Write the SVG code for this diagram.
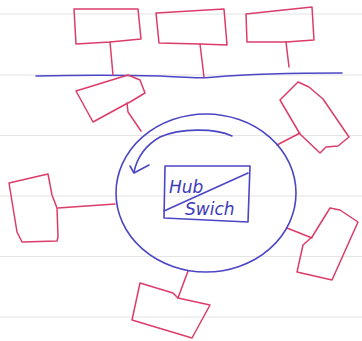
<svg xmlns="http://www.w3.org/2000/svg" width="362" height="341" viewBox="0 0 362 341">
<style>
.rule{stroke:#e4e4e4;stroke-width:1.2;fill:none}
.pc{fill:none;stroke:#dc3c6a;stroke-width:1.5;stroke-linejoin:round;stroke-linecap:round}
.wire{fill:none;stroke:#dc3c6a;stroke-width:1.5;stroke-linecap:round}
.blue{fill:none;stroke:#4b46c4;stroke-width:1.6;stroke-linecap:round;stroke-linejoin:round}
.lbl{font-family:"DejaVu Sans","Liberation Sans",sans-serif;font-style:italic;fill:#3d3ab8;font-size:17px}
</style>
<rect width="362" height="341" fill="#ffffff"/>
<g id="ruling">
<line class="rule" x1="0" y1="14" x2="362" y2="14"/>
<line class="rule" x1="0" y1="75" x2="362" y2="75"/>
<line class="rule" x1="0" y1="135.5" x2="362" y2="135.5"/>
<line class="rule" x1="0" y1="196" x2="362" y2="196"/>
<line class="rule" x1="0" y1="256.5" x2="362" y2="256.5"/>
<line class="rule" x1="0" y1="317" x2="362" y2="317"/>
</g>
<g id="connectors">
<path class="blue" d="M36,76 C80,75 120,75 160,76 C185,77 200,79 215,77 C250,74 300,73 342,73"/>
<path class="wire" d="M110,42 L113,75"/>
<path class="wire" d="M200,44 L204,77"/>
<path class="wire" d="M286,42 L289,67"/>
<path class="wire" d="M127,103 L128,112 L141,131"/>
<path class="wire" d="M300,133 L277,145"/>
<path class="wire" d="M58,208 L115,204"/>
<path class="wire" d="M287,228 L312,238"/>
<path class="wire" d="M178,298 L188,271"/>
</g>
<g id="ring">
<ellipse class="blue" cx="206" cy="193" rx="90" ry="79"/>
<path class="blue" d="M232,136 C215,128 180,128 160,137 C146,145 137,158 134,172"/>
<path class="blue" d="M130,166 L134,173 L149,165"/>
</g>
<g id="hub">
<path class="blue" d="M165,166 L250,166 L248,222 L164,218 Z"/>
<path class="blue" d="M164,211 L248,173"/>
<text class="lbl" x="169" y="193">Hub</text>
<text class="lbl" x="185" y="215">Swich</text>
</g>
<g id="pc-top-1"><path class="pc" d="M74,9 L138,9 L141,39 L110,42 L76,44 Z"/></g>
<g id="pc-top-2"><path class="pc" d="M156,13 L224,9 L227,45 L200,44 L159,43 Z"/></g>
<g id="pc-top-3"><path class="pc" d="M246,14 L312,7 L314,40 L286,42 L247,42 Z"/></g>
<g id="pc-upper-left"><path class="pc" d="M76,91 L128,75 L140,80 L145,93 L130,102 L126,104 L93,122 Z"/></g>
<g id="pc-upper-right"><path class="pc" d="M280,100 L298,82 L309,87 L323,99 L349,137 L338,146 L326,147 L320,153 L300,134 Z"/></g>
<g id="pc-left"><path class="pc" d="M9,183 L48,174 L52,195 L57,208 L58,237 L57,241 L22,242 L17,232 Z"/></g>
<g id="pc-lower-right"><path class="pc" d="M330,208 L340,210 L358,222 L332,280 L297,272 L303,245 L312,237 Z"/></g>
<g id="pc-bottom"><path class="pc" d="M140,283 L173,293 L178,298 L210,305 L192,338 L132,320 Z"/></g>
</svg>
